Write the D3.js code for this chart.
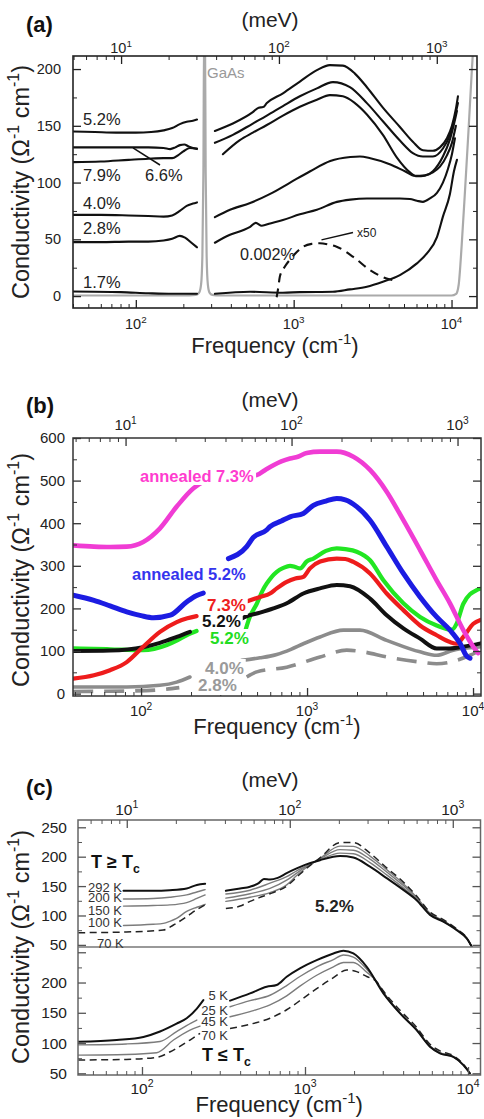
<!DOCTYPE html>
<html>
<head>
<meta charset="utf-8">
<script src="https://cdn.jsdelivr.net/npm/d3@7"></script>
<style>
  body { margin: 0; background: #fff; }
  svg { display: block; }
  text { font-family: "Liberation Sans", Arial, Helvetica, sans-serif; }
</style>
</head>
<body>
<svg id="fig" width="484" height="1119"></svg>
<script>
// ---------------- data: [frequency (cm^-1), conductivity (Ohm^-1 cm^-1)] ----------------

// (a) doping series, each measured below and above the GaAs phonon band
const aGaAs = [[40,0.5],[200,0.5],[240,1],[252,3],[259,10],[264,35],[268,110],[271,240],[274,240],[277,110],[281,35],[286,10],[293,3],[305,1],[340,0.5],[10000,0.5],[10700,2],[11100,10],[11600,45],[12200,95],[12800,145],[13400,195],[14000,240]];
const a52Low = [[40,145],[55,144.5],[75,144],[100,144],[125,144.5],[150,146],[170,148],[190,151.5],[210,153.5],[230,154.5],[244,155.5]];
const a52High = [[317,145.4],[412,152],[551,162],[600,166],[640,166.5],[676,170],[855,178.6],[1095,189],[1403,199],[1696,203.5],[2050,203],[2443,196],[2910,184],[3675,166],[4710,149],[5690,136],[6590,128.5],[7620,128],[8445,131],[9350,139],[10060,150],[10660,165],[10980,176]];
const a66Low = [[40,131],[60,131],[90,131],[120,131],[150,130.5],[165,129.5],[178,131],[190,133],[203,133.5],[215,132],[230,130.5],[244,130]];
const a66High = [[317,135],[412,142],[551,152],[676,159],[855,167.4],[1095,176],[1403,183],[1772,188.5],[2271,184],[2910,170],[3675,154],[4710,137],[5690,126],[6590,123],[7620,123],[8820,130],[9770,142],[10510,158],[10980,170]];
const a79Low = [[40,118],[60,118.5],[90,120],[120,121],[150,121.5],[170,121.5],[185,124],[200,127.5],[220,130.5],[244,129.5]];
const a79High = [[356,125],[456,137.4],[551,144],[676,150.7],[855,159],[1095,166.8],[1403,173],[1696,177],[2050,176],[2443,170],[2910,160],[3675,142],[4508,122],[5450,109],[6035,105.5],[6785,106],[7620,110],[8820,123],[9770,138],[10510,155],[10820,163]];
const a40Low = [[40,71.5],[60,71.5],[90,71],[120,70.5],[150,70],[170,71],[190,75],[210,79.5],[230,81.5],[244,82.5]];
const a40High = [[317,69.5],[395,76],[530,82],[710,90],[950,100],[1273,110],[1705,119],[2285,122.5],[2627,123],[3060,121.5],[4100,116],[5066,110],[5865,106],[6785,106.5],[7620,109],[8445,114],[9350,124],[10060,135],[10660,150]];
const a28Low = [[40,47.5],[60,47.5],[90,48],[120,48],[150,49],[170,50.5],[190,53],[205,51.5],[225,47],[244,43]];
const a28High = [[317,47],[395,54],[477,58],[530,61],[575,64.5],[628,62],[710,64],[855,67],[1095,72],[1403,76],[1880,83],[2285,85],[2910,86],[3675,86],[4710,86],[5450,85.5],[6035,84],[6590,83],[7300,86],[8085,91],[8820,100],[9490,112],[10060,125],[10510,139]];
const a17Low = [[40,4],[80,3.5],[120,2.5],[170,2],[244,2]];
const a17High = [[317,2],[530,3.8],[855,3],[1095,3.5],[1772,3.8],[2271,5.9],[2910,8.2],[3675,12.6],[4710,18.5],[6035,28.8],[6980,37.6],[8085,52],[8820,70],[9770,90],[10360,110],[10820,120]];
const a0002x50 = [[780,-1],[800,8],[817,17],[880,26],[946,32],[1050,39],[1148,43.5],[1300,46],[1465,46.5],[1650,45.5],[1871,43.5],[2385,34.5],[3040,23],[3880,15.5],[4490,13.5]];
const aLabels = ["5.2%", "7.9%", "6.6%", "4.0%", "2.8%", "1.7%", "0.002%"];

// (b) as-grown and annealed films
const bAnn73 = [[39,348],[52,345],[65,344],[82,345],[103,356],[130,388],[164,439],[207,482],[237,497],[300,505],[400,509],[498,513],[560,525],[627,536],[700,545],[790,552],[880,556],[995,565],[1200,568],[1510,568],[1902,556],[2396,525],[3020,474],[3805,407],[4797,337],[6040,266],[7265,212],[8743,149],[10040,110],[10720,95]];
const bAnn52Low = [[39,231],[52,219],[65,206],[82,192],[100,183],[119,178],[150,184],[188,215],[215,230],[237,236]];
const bAnn52High = [[336,317],[433,345],[473,366],[571,384],[598,392],[700,405],[790,415],[950,423],[1092,442],[1300,452],[1510,458],[1700,455],[1992,439],[2396,407],[3020,345],[3805,282],[4797,227],[6040,180],[7265,149],[8350,118],[9160,88],[9590,83]];
const b52gLow = [[39,106],[52,105],[65,104],[103,102],[120,105],[143,114],[165,125],[188,137],[216,147]];
const b52gHigh = [[423,145],[450,178],[498,211],[545,245],[571,258],[657,286],[720,295],[790,300],[850,297],[908,294],[995,310],[1092,317],[1300,335],[1510,341],[1700,339],[1992,333],[2396,313],[2884,266],[3805,212],[4797,180],[6040,160],[7440,150],[7980,165],[8743,211],[10520,243],[11100,246]];
const b73Low = [[39,35],[52,43],[65,55],[82,74],[103,110],[130,145],[164,168],[190,177],[216,182]];
const b73High = [[423,215],[521,227],[598,235],[657,247],[755,262],[850,270],[950,274],[1042,294],[1200,310],[1510,317],[1700,316],[1902,309],[2396,282],[3020,235],[3805,196],[4797,160],[6040,137],[7265,121],[7980,117],[8743,133],[10040,164],[11100,173]];
const b52kLow = [[39,100],[65,101],[103,109],[130,119],[164,133],[197,145]];
const b52kHigh = [[400,175],[423,180],[521,190],[627,200],[755,212],[950,235],[1197,247],[1510,255],[1815,252],[2396,223],[3020,184],[3805,153],[4797,129],[6040,106],[7265,106],[8743,110],[11100,118]];
const b40Low = [[39,15.5],[82,15.5],[130,19.5],[164,27],[197,39]];
const b40High = [[404,78],[521,84],[598,88],[657,92],[800,104],[950,117],[1197,133],[1655,149],[2083,149],[3020,125],[4797,98],[6040,90],[7600,102],[10520,109],[11100,110]];
const b28Low = [[39,5],[82,6],[130,9],[170,14]];
const b28High = [[433,39],[498,51],[755,62],[1197,86],[1734,102],[2183,98],[3020,86],[4797,74],[6040,70],[9590,90],[11100,102]];

// (c) 5.2% film versus temperature: above Tc (upper) and below Tc (lower)
const cT292Low = [[77,142],[117,142],[148,143],[188,146],[217,152],[244,154]];
const cT292High = [[327,142],[400,146],[460,149],[520,155],[560,162],[610,161],[680,164],[772,172],[889,180],[1000,186],[1236,194],[1640,201],[1980,198.5],[2505,183],[3170,163.5],[4010,143.5],[4840,126],[5845,101],[7056,89.5],[8530,75],[9820,61],[10540,47]];
const cT200Low = [[77,128],[117,129],[148,131],[188,135],[217,140],[244,144]];
const cT200High = [[327,136.5],[460,143],[610,155],[772,166],[889,176],[1000,183],[1236,195],[1640,206],[1980,205],[2505,190],[3170,169],[4010,147],[4840,128],[5845,102],[7056,90],[8530,75.5],[9820,61],[10540,47]];
const cT150Low = [[77,116],[117,117],[148,118],[188,122],[217,129],[244,135]];
const cT150High = [[327,129.5],[460,137],[610,146],[772,160],[889,172],[1000,182],[1236,196],[1640,212],[1980,211],[2505,196],[3170,174],[4010,151],[4840,130],[5845,103],[7056,90],[8530,76],[9820,61.5],[10540,47]];
const cT100Low = [[77,83],[117,85],[135,86.5],[148,90],[163,95],[188,107],[217,114],[244,119]];
const cT100High = [[327,124],[460,131],[610,139],[772,152],[889,168],[1000,180],[1236,197],[1640,218],[1980,217.5],[2505,201],[3170,178],[4010,154],[4840,131],[5845,104],[7056,91],[8530,76],[9820,62],[10540,47]];
const cT70uLow = [[40.6,70.7],[80,72],[135,75.3],[156,83.8],[188,98],[217,110],[244,118]];
const cT70uHigh = [[327,112],[400,116],[460,124],[520,130],[610,137],[772,150],[889,165],[1000,178],[1236,198],[1640,224],[1980,224],[2505,206],[3170,181],[4010,157],[4840,133],[5845,106],[7056,93],[8530,77],[9820,62],[10540,47]];
const cT5Low = [[40.6,102],[70,105],[102,110],[129,119],[163,132],[188,141],[217,157],[238,171]];
const cT5High = [[347,170],[460,182],[582,193],[670,196],[772,209.6],[931,223.5],[1180,237],[1494,248],[1720,252.6],[1980,248],[2392,226],[3027,182],[3830,149],[4840,121.5],[5845,94],[6730,83],[8130,77],[9370,63.6],[10280,50]];
const cT25Low = [[40.6,97],[80,98.5],[129,102.5],[163,119],[200,133],[217,138]];
const cT25High = [[347,160],[460,170],[610,179],[772,195],[931,210],[1180,226],[1494,238],[1720,245.5],[1980,242],[2392,222],[2760,201],[3027,183],[3830,149],[4840,121.5],[5845,94],[6730,83],[8130,77],[9370,63.6],[10280,50]];
const cT45Low = [[40.6,80],[80,81],[123,84],[156,105],[197,121.5],[227,128]];
const cT45High = [[347,143.5],[460,152],[610,163],[772,178],[931,194],[1180,212],[1494,226],[1720,233],[1980,233],[2392,217],[2760,201],[3027,184],[3830,150],[4840,122],[5845,95],[6730,84],[8130,77.5],[9370,64],[10280,50]];
const cT70lLow = [[40.6,72],[80,73],[123,76.4],[156,88.4],[197,105],[227,116]];
const cT70lHigh = [[347,124],[460,131],[610,141],[772,155],[931,170],[1180,190],[1494,208],[1805,220.7],[2075,218],[2392,210],[2760,201],[3027,186],[3830,154],[4840,126],[5845,98],[6730,87],[8130,79],[9370,65],[10280,50]];
const cTempsAbove = ["292 K", "200 K", "150 K", "100 K", "70 K"];
const cTempsBelow = ["5 K", "25 K", "45 K", "70 K"];

// ---------------- drawing ----------------
const CM_PER_MEV = 8.0655;
const svg = d3.select("#fig");
const INK = "#222";

function logTicks(domain) {
  const [lo, hi] = domain, major = [], minor = [];
  for (let e = Math.floor(Math.log10(lo)); e <= Math.ceil(Math.log10(hi)); e++)
    for (let k = 1; k < 10; k++) {
      const v = k * Math.pow(10, e);
      if (v < lo || v > hi) continue;
      (k === 1 ? major : minor).push(v);
    }
  return { major, minor };
}

// text made of plain, superscript and subscript pieces
function richText(g, x, y, parts, size, o = {}) {
  const t = g.append("text").attr("x", x).attr("y", y).attr("font-size", size)
    .attr("fill", o.color || INK).attr("text-anchor", o.anchor || "start")
    .attr("font-weight", o.bold ? "bold" : null);
  if (o.transform) t.attr("transform", o.transform);
  let shift = 0;
  parts.forEach(p => {
    const s = t.append("tspan").text(p.t);
    const target = p.sup ? -0.42 * size : p.sub ? 0.28 * size : 0;
    if (target !== shift) { s.attr("dy", target - shift); shift = target; }
    if (p.sup || p.sub) s.attr("font-size", size * 0.68);
  });
  return t;
}

function powerLabel(x, y, value, size) {
  richText(svg, x, y, [{ t: "10" }, { t: String(Math.round(Math.log10(value))), sup: true }], size, { anchor: "middle" });
}

function tickGroup(p, axis, tr, width) {
  return svg.append("g").attr("transform", tr).call(axis)
    .call(g => g.select(".domain").remove())
    .call(g => g.selectAll("line").attr("stroke", p.tickColor).attr("stroke-width", width));
}

function setupX(p) {
  const x = d3.scaleLog().domain(p.xDomain).range([p.left, p.right]);
  const xm = d3.scaleLog().domain(p.xDomain.map(v => v / CM_PER_MEV)).range([p.left, p.right]);
  const bt = logTicks(x.domain()), tt = logTicks(xm.domain());
  tickGroup(p, d3.axisBottom(x).tickValues(bt.minor).tickSize(-4).tickFormat(""), `translate(0,${p.bottom})`, 1);
  tickGroup(p, d3.axisBottom(x).tickValues(bt.major).tickSize(-8).tickFormat(""), `translate(0,${p.bottom})`, 1.3);
  tickGroup(p, d3.axisTop(xm).tickValues(tt.minor).tickSize(-4).tickFormat(""), `translate(0,${p.top})`, 1);
  tickGroup(p, d3.axisTop(xm).tickValues(tt.major).tickSize(-8).tickFormat(""), `translate(0,${p.top})`, 1.3);
  bt.major.forEach(v => powerLabel(x(v), p.bottomLabelY, v, p.tickFont));
  tt.major.forEach(v => powerLabel(xm(v), p.topLabelY, v, p.tickFont));
  svg.append("text").attr("x", 270).attr("y", p.meVY).attr("text-anchor", "middle")
    .attr("font-size", 21).attr("fill", INK).text("(meV)");
  richText(svg, (p.left + p.right) / 2, p.freqY,
    [{ t: "Frequency (cm" }, { t: "-1", sup: true }, { t: ")" }], 22, { anchor: "middle" });
  svg.append("text").attr("x", 26).attr("y", p.letterY).attr("font-size", 22)
    .attr("font-weight", "bold").attr("fill", "#111").text(p.letter);
  richText(svg, 0, 0, [{ t: "Conductivity (Ω" }, { t: "-1", sup: true }, { t: " cm" }, { t: "-1", sup: true }, { t: ")" }],
    23.5, { anchor: "middle", transform: `translate(29,${p.yTitleY}) rotate(-90)` });
  return x;
}

function setupY(p, y, step, labelled) {
  const [lo, hi] = y.domain();
  const major = d3.range(Math.ceil(lo / step) * step, hi + 1e-9, step);
  const minor = d3.range(Math.ceil(lo / (step / 2)) * (step / 2), hi + 1e-9, step / 2).filter(v => !major.includes(v));
  tickGroup(p, d3.axisLeft(y).tickValues(minor).tickSize(-4).tickFormat(""), `translate(${p.left},0)`, 1);
  tickGroup(p, d3.axisRight(y).tickValues(minor).tickSize(-4).tickFormat(""), `translate(${p.right},0)`, 1);
  tickGroup(p, d3.axisRight(y).tickValues(major).tickSize(-8).tickFormat(""), `translate(${p.right},0)`, 1.3);
  const g = tickGroup(p, d3.axisLeft(y).tickValues(major).tickSize(-8).tickPadding(p.yPad)
    .tickFormat(d => labelled.includes(d) ? String(d) : ""), `translate(${p.left},0)`, 1.3);
  g.selectAll("text").attr("font-size", p.tickFont).attr("fill", INK);
}

function clip(id, x0, y0, x1, y1) {
  svg.append("clipPath").attr("id", id).append("rect")
    .attr("x", x0).attr("y", y0).attr("width", x1 - x0).attr("height", y1 - y0);
  return svg.append("g").attr("clip-path", `url(#${id})`);
}

function curve(g, x, y, data, st) {
  g.append("path").datum(data)
    .attr("d", d3.line().x(d => x(d[0])).y(d => y(d[1])).curve(d3.curveMonotoneX))
    .attr("fill", "none").attr("stroke", st.color).attr("stroke-width", st.width)
    .attr("stroke-dasharray", st.dash || null)
    .attr("stroke-linecap", st.dash ? "butt" : "round").attr("stroke-linejoin", "round");
}

function frame(p, y0, y1) {
  svg.append("rect").attr("x", p.left).attr("y", y0).attr("width", p.right - p.left).attr("height", y1 - y0)
    .attr("fill", "none").attr("stroke", p.frame).attr("stroke-width", p.frameWidth);
}

function boxedLabel(g, x, y, str, size, color) {
  const t = g.append("text").attr("x", x).attr("y", y).attr("font-size", size)
    .attr("font-weight", "bold").attr("fill", color).text(str);
  const bb = t.node().getBBox();
  g.insert("rect", () => t.node()).attr("x", bb.x - 2).attr("y", bb.y)
    .attr("width", bb.width + 4).attr("height", bb.height).attr("fill", "#fff");
}

// ---------- panel (a) ----------
const PA = { left: 73, right: 477, top: 56, bottom: 308, xDomain: [40, 14500], frame: "#222", frameWidth: 1.6,
  tickColor: "#222", tickFont: 14.5, yPad: 12, bottomLabelY: 329, topLabelY: 53, meVY: 27, freqY: 353,
  letter: "(a)", letterY: 32, yTitleY: 182 };
{
  const x = d3.scaleLog().domain(PA.xDomain).range([PA.left, PA.right]);
  const y = d3.scaleLinear().domain([-10.5, 211.5]).range([PA.bottom, PA.top]);
  const g = clip("clipA", PA.left, PA.top, PA.right, PA.bottom);
  const black = { color: "#111", width: 2.1 };
  curve(g, x, y, aGaAs, { color: "#aaa", width: 2.2 });
  [a52Low, a52High, a66Low, a66High, a79Low, a79High, a40Low, a40High, a28Low, a28High, a17Low, a17High]
    .forEach(d => curve(g, x, y, d, black));
  curve(g, x, y, a0002x50, { color: "#111", width: 2.1, dash: "9,6" });
  frame(PA, PA.top, PA.bottom);
  setupX(PA);
  setupY(PA, y, 50, [0, 50, 100, 150, 200]);

  const lab = (str, lx, ly, size = 16.5, color = INK) =>
    svg.append("text").attr("x", lx).attr("y", ly).attr("font-size", size).attr("fill", color).text(str);
  lab(aLabels[0], 83, 125); lab(aLabels[1], 83, 181); lab(aLabels[2], 145, 181);
  lab(aLabels[3], 83, 209); lab(aLabels[4], 83, 234); lab(aLabels[5], 83, 288);
  lab(aLabels[6], 240, 260, 16.2);
  lab("GaAs", 207, 78, 15, "#999");
  lab("x50", 357, 237, 12);
  // pointers from labels to their curves
  svg.append("line").attr("x1", x(96)).attr("y1", y(130.5)).attr("x2", 160).attr("y2", 165)
    .attr("stroke", "#111").attr("stroke-width", 1.5);
  svg.append("line").attr("x1", x(1500)).attr("y1", y(49.5)).attr("x2", 353).attr("y2", 232.5)
    .attr("stroke", "#111").attr("stroke-width", 1.5);
}

// ---------- panel (b) ----------
const PB = { left: 73, right: 481, top: 438, bottom: 696, xDomain: [38.9, 11170], frame: "#333", frameWidth: 1.5,
  tickColor: "#333", tickFont: 15, yPad: 8, bottomLabelY: 716, topLabelY: 430, meVY: 407, freqY: 734,
  letter: "(b)", letterY: 413, yTitleY: 570 };
{
  const x = d3.scaleLog().domain(PB.xDomain).range([PB.left, PB.right]);
  const y = d3.scaleLinear().domain([-5.6, 600]).range([PB.bottom, PB.top]);
  const g = clip("clipB", PB.left, PB.top, PB.right, PB.bottom);
  const C = { mag: "#f03cd4", blue: "#1c1ce2", green: "#22e622", red: "#ee1c1c", black: "#111", grey: "#8c8c8c" };
  [b28Low, b28High].forEach(d => curve(g, x, y, d, { color: C.grey, width: 3.6, dash: "20,11" }));
  [b40Low, b40High].forEach(d => curve(g, x, y, d, { color: C.grey, width: 3.6 }));
  [b52gLow, b52gHigh].forEach(d => curve(g, x, y, d, { color: C.green, width: 4.2 }));
  [b52kLow, b52kHigh].forEach(d => curve(g, x, y, d, { color: C.black, width: 4 }));
  [b73Low, b73High].forEach(d => curve(g, x, y, d, { color: C.red, width: 4.2 }));
  [bAnn52Low, bAnn52High].forEach(d => curve(g, x, y, d, { color: C.blue, width: 5 }));
  curve(g, x, y, bAnn73, { color: C.mag, width: 4.6 });
  frame(PB, PB.top, PB.bottom);
  setupX(PB);
  setupY(PB, y, 100, [0, 100, 200, 300, 400, 500, 600]);

  const lg = svg.append("g");
  boxedLabel(lg, 140, 482, "annealed 7.3%", 16.5, "#ff3ccf");
  boxedLabel(lg, 132, 580, "annealed 5.2%", 16.5, "#3434ee");
  boxedLabel(lg, 207, 611, "7.3%", 17, "#ee2020");
  boxedLabel(lg, 202, 627, "5.2%", 17, "#111");
  boxedLabel(lg, 210, 644, "5.2%", 17, "#22dd22");
  boxedLabel(lg, 205, 674, "4.0%", 17, "#9a9a9a");
  boxedLabel(lg, 198, 691, "2.8%", 17, "#9a9a9a");
}

// ---------- panel (c) ----------
const PC = { left: 78, right: 480.5, top: 820, bottom: 1075, mid: 947, xDomain: [40.5, 11930], frame: "#666", frameWidth: 1.5,
  tickColor: "#555", tickFont: 15.5, yPad: 11, bottomLabelY: 1094, topLabelY: 815, meVY: 787, freqY: 1112,
  letter: "(c)", letterY: 795, yTitleY: 947 };
{
  const x = d3.scaleLog().domain(PC.xDomain).range([PC.left, PC.right]);
  const yU = d3.scaleLinear().domain([46.4, 262.4]).range([PC.mid, PC.top]);
  const yL = d3.scaleLinear().domain([47.2, 258.7]).range([PC.bottom, PC.mid]);
  const gU = clip("clipCU", PC.left, PC.top, PC.right, PC.mid);
  const gL = clip("clipCL", PC.left, PC.mid, PC.right, PC.bottom);
  const thick = { color: "#111", width: 2 }, thin = { color: "#7c7c7c", width: 1.4 },
        dashed = { color: "#222", width: 1.5, dash: "7,4.5" };
  [cT200Low, cT200High, cT150Low, cT150High, cT100Low, cT100High].forEach(d => curve(gU, x, yU, d, thin));
  [cT70uLow, cT70uHigh].forEach(d => curve(gU, x, yU, d, dashed));
  [cT292Low, cT292High].forEach(d => curve(gU, x, yU, d, thick));
  [cT25Low, cT25High, cT45Low, cT45High].forEach(d => curve(gL, x, yL, d, thin));
  [cT70lLow, cT70lHigh].forEach(d => curve(gL, x, yL, d, dashed));
  [cT5Low, cT5High].forEach(d => curve(gL, x, yL, d, thick));

  frame(PC, PC.top, PC.bottom);
  svg.append("line").attr("x1", PC.left).attr("x2", PC.right).attr("y1", PC.mid).attr("y2", PC.mid)
    .attr("stroke", "#777").attr("stroke-width", 1.3);
  setupX(PC);
  setupY(PC, yU, 50, [50, 100, 150, 200, 250]);
  setupY(PC, yL, 50, [50, 100, 150, 200]);

  const tl = (str, lx, ly, anchor = "start") =>
    svg.append("text").attr("x", lx).attr("y", ly).attr("font-size", 13).attr("fill", "#333")
      .attr("text-anchor", anchor).text(str);
  tl(cTempsAbove[0], 88, 891.5); tl(cTempsAbove[1], 88, 901.5); tl(cTempsAbove[2], 88, 915);
  tl(cTempsAbove[3], 88, 927); tl(cTempsAbove[4], 97, 948);
  tl(cTempsBelow[0], 228, 1000, "end"); tl(cTempsBelow[1], 228, 1015, "end");
  tl(cTempsBelow[2], 228, 1026, "end"); tl(cTempsBelow[3], 228, 1040, "end");

  richText(svg, 91, 868, [{ t: "T ≥ T" }, { t: "c", sub: true }], 18, { bold: true, color: "#111" });
  richText(svg, 202, 1061, [{ t: "T ≤ T" }, { t: "c", sub: true }], 18, { bold: true, color: "#111" });
  svg.append("text").attr("x", 315).attr("y", 912).attr("font-size", 17).attr("font-weight", "bold")
    .attr("fill", "#222").text("5.2%");
}
</script>
</body>
</html>
